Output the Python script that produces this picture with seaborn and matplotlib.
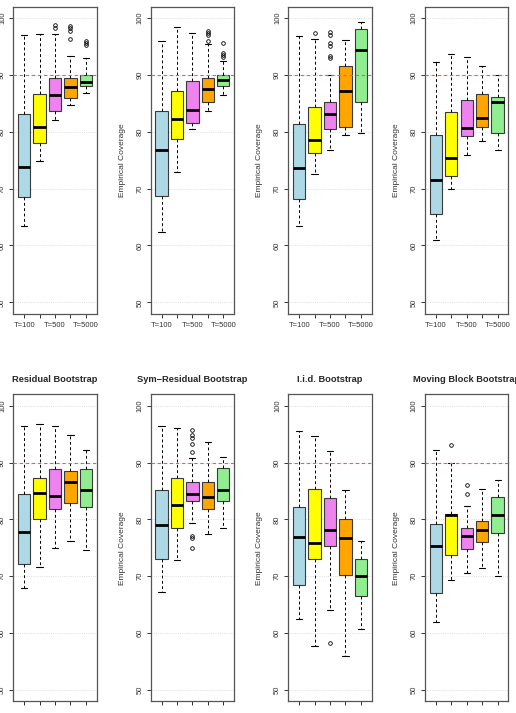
"""Empirical coverage of bootstrap intervals by sample size (2 x 4 boxplot grid)."""
import pandas as pd
import matplotlib
matplotlib.use("Agg")
import matplotlib.pyplot as plt
import seaborn as sns

# top row titles are cut off in the reference
titles = ["", "", "", "",
          "Residual Bootstrap", "Sym\u2212Residual Bootstrap",
          "I.i.d. Bootstrap", "Moving Block Bootstrap"]
levels = ["T=100", "T=200", "T=500", "T=1000", "T=5000"]
shown_labels = ["T=100", "", "T=500", "", "T=5000"]
box_colors = ["lightblue", "yellow", "violet", "orange", "lightgreen"]
target = 90

# five number summaries per panel (rows) and sample size (columns)
whis_lo = [
    [63.5, 74.8, 82.1, 84.7, 86.8],
    [62.4, 73.0, 80.4, 83.6, 86.5],
    [63.4, 72.5, 76.8, 79.4, 79.8],
    [60.9, 70.0, 76.0, 78.4, 76.8],
    [68.0, 71.7, 75.0, 76.2, 74.7],
    [67.2, 72.8, 79.3, 77.4, 78.5],
    [62.5, 57.8, 64.0, 56.0, 60.8],
    [61.9, 69.3, 70.6, 71.5, 70.0],
]
q1 = [
    [68.5, 78.1, 83.6, 86.0, 88.0],
    [68.7, 78.8, 81.6, 85.3, 88.1],
    [68.2, 76.2, 80.4, 80.9, 85.3],
    [65.5, 72.2, 79.2, 80.8, 79.8],
    [72.1, 80.1, 81.9, 82.8, 82.1],
    [73.1, 78.5, 83.2, 81.8, 83.3],
    [68.4, 73.1, 75.3, 70.2, 66.5],
    [67.1, 73.7, 74.8, 76.0, 77.6],
]
med = [
    [73.8, 80.8, 86.4, 87.9, 88.8],
    [76.8, 82.2, 83.9, 87.6, 89.1],
    [73.7, 78.5, 83.2, 87.1, 94.3],
    [71.6, 75.3, 80.6, 82.5, 85.3],
    [77.8, 84.6, 84.1, 86.5, 85.2],
    [79.0, 82.5, 84.5, 83.9, 85.1],
    [76.9, 75.8, 78.1, 76.7, 70.0],
    [75.4, 80.7, 77.0, 78.2, 80.7],
]
q3 = [
    [83.1, 86.6, 89.4, 89.5, 90.0],
    [83.6, 87.2, 88.9, 89.4, 90.0],
    [81.3, 84.4, 85.3, 91.5, 98.1],
    [79.4, 83.5, 85.6, 86.6, 86.1],
    [84.5, 87.2, 88.8, 88.5, 88.8],
    [85.1, 87.3, 86.5, 86.6, 89.0],
    [82.2, 85.4, 83.8, 80.1, 73.1],
    [79.2, 81.0, 78.4, 79.8, 84.0],
]
whis_hi = [
    [97.1, 97.2, 97.2, 93.4, 92.9],
    [95.9, 98.5, 97.4, 95.4, 92.5],
    [96.8, 96.4, 90.0, 96.2, 99.3],
    [92.2, 93.6, 93.1, 91.5, 89.9],
    [96.5, 96.8, 96.5, 94.9, 92.2],
    [96.5, 96.0, 90.8, 93.6, 91.0],
    [95.5, 94.6, 92.1, 85.2, 76.2],
    [92.2, 89.9, 82.3, 85.4, 86.9],
]
# (panel, box) -> outlying points
outliers = {
    (0, 2): [98.3, 98.7],
    (0, 3): [96.4, 97.8, 98.2, 98.6],
    (0, 4): [95.2, 95.6, 96.0],
    (1, 3): [96.0, 97.0, 97.4, 97.8],
    (1, 4): [93.1, 93.5, 93.9, 95.6],
    (2, 1): [97.4],
    (2, 2): [92.9, 93.3, 95.0, 95.7, 97.1, 97.6],
    (5, 2): [75.0, 76.7, 77.1, 91.8, 93.2, 94.3, 94.9, 95.8],
    (6, 2): [58.2],
    (7, 1): [93.0],
    (7, 2): [84.5, 86.1],
}


def panel_frame(p):
    # rebuild a sample whose quartiles / whiskers match the summary values
    rows = []
    for b, lev in enumerate(levels):
        vals = ([whis_lo[p][b]] + [q1[p][b]] * 20 + [med[p][b]] * 20
                + [q3[p][b]] * 20 + [whis_hi[p][b]] + outliers.get((p, b), []))
        rows += [(lev, v) for v in vals]
    return pd.DataFrame(rows, columns=["T", "coverage"])


sns.set_theme(style="white")
plt.rcParams["font.family"] = ["Liberation Sans", "DejaVu Sans"]

W, H = 516, 713
fig = plt.figure(figsize=(W / 100, H / 100), dpi=100)
col_left = [13.3, 150.7, 288.3, 425.0]
row_top = [6.7, 394.3]
pw, ph = 83.4, 307.0
txt = "#333333"

for p in range(8):
    r, c = divmod(p, 4)
    ax = fig.add_axes([col_left[c] / W, 1 - (row_top[r] + ph) / H, pw / W, ph / H])
    ax.set_axisbelow(True)
    ax.grid(True, color="lightgray", linestyle=":", linewidth=0.6)

    sns.boxplot(data=panel_frame(p), x="T", y="coverage", hue="T",
                order=levels, hue_order=levels, palette=box_colors,
                saturation=1, width=0.8, whis=1.5, linecolor="black",
                linewidth=0.8, legend=False, ax=ax,
                boxprops={"edgecolor": "#3a3a3a", "linewidth": 0.8},
                medianprops={"color": "black", "linewidth": 2.0},
                whiskerprops={"color": "black", "linewidth": 0.7,
                              "linestyle": (0, (3, 2.5))},
                capprops={"color": "black", "linewidth": 0.8},
                flierprops={"marker": "o", "markersize": 2.6,
                            "markerfacecolor": "none",
                            "markeredgecolor": "black",
                            "markeredgewidth": 0.6})

    ax.axhline(target, color="#f25a5a", linestyle=(0, (3, 2.5)),
               linewidth=0.8, zorder=5)

    ax.set_xlim(-0.7, 4.7)
    ax.set_ylim(48, 102)
    ax.set_yticks([50, 60, 70, 80, 90, 100])
    ax.set_xticks(range(len(levels)))
    # x labels of the lower row fall outside the picture
    ax.set_xticklabels(shown_labels if r == 0 else [""] * len(levels))
    ax.tick_params(axis="both", direction="out", length=3.2, width=0.7,
                   color="#333333", labelcolor=txt, labelsize=5.5,
                   bottom=True, left=True)
    ax.tick_params(axis="y", labelrotation=90, pad=2)
    ax.tick_params(axis="x", pad=3)
    for lbl in ax.get_yticklabels():
        lbl.set_va("center")

    ax.set_xlabel("")
    # first column's y label lies outside the picture
    ax.set_ylabel("Empirical Coverage" if c > 0 else "", fontsize=6, color=txt)
    ax.yaxis.set_label_coords(-0.30, 0.5)
    if titles[p]:
        ax.set_title(titles[p], fontsize=6.7, fontweight="bold", pad=9)

    for s in ax.spines.values():
        s.set_color("#555555")
        s.set_linewidth(0.9)

fig.savefig("out.png", dpi=100)
